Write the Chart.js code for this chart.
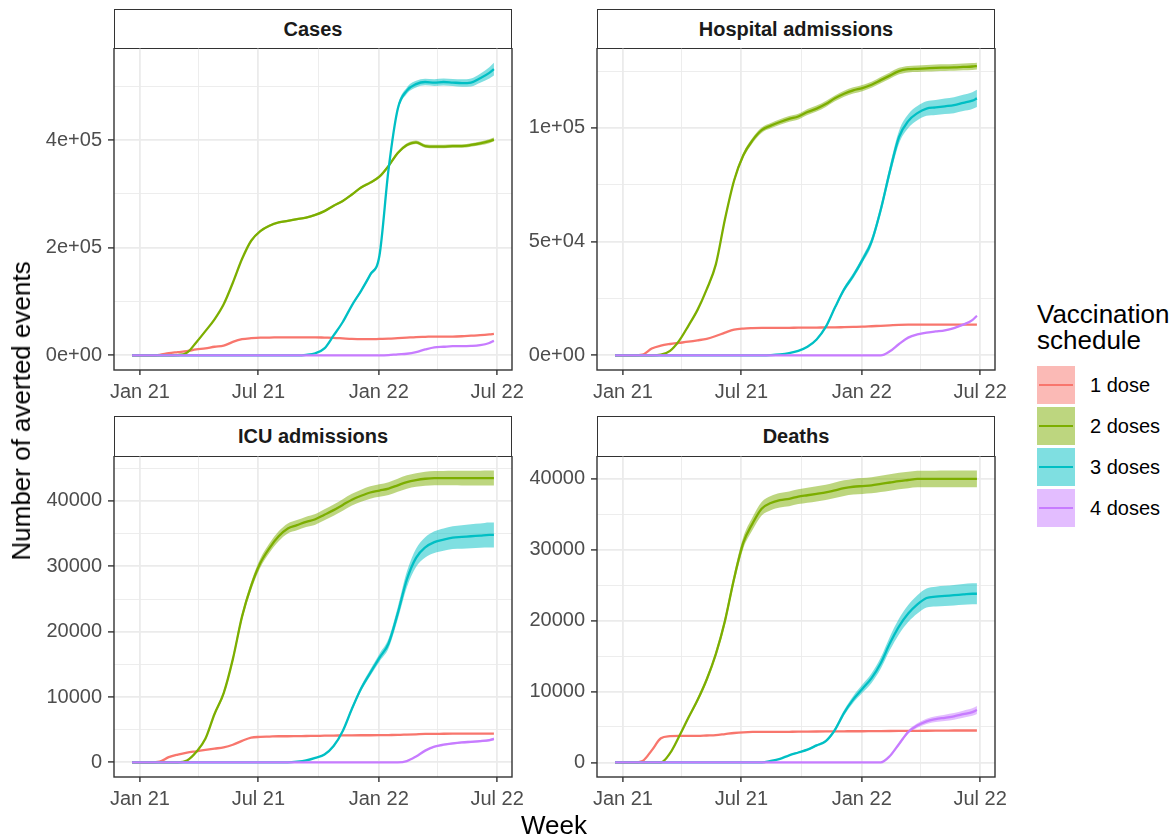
<!DOCTYPE html>
<html>
<head>
<meta charset="utf-8">
<script src="https://cdn.jsdelivr.net/npm/chart.js@4.4.1/dist/chart.umd.min.js"></script>
<style>
html,body{margin:0;padding:0;background:#fff;}
#root{position:relative;width:1175px;height:838px;overflow:hidden;background:#fff;font-family:"Liberation Sans",Arial,Helvetica,sans-serif;}
canvas{position:absolute;}
.strip{position:absolute;box-sizing:border-box;border:1.4px solid #333;background:#fff;font-weight:bold;font-size:20px;color:#1a1a1a;display:flex;align-items:center;justify-content:center;}
.title{position:absolute;font-size:26px;line-height:26px;color:#000;white-space:nowrap;}
.key{position:absolute;width:38px;height:38px;}
.key .ln{position:absolute;left:2px;right:2px;top:18px;height:2.3px;}
.klab{position:absolute;font-size:20px;line-height:20px;color:#000;white-space:nowrap;}
</style>
</head>
<body>
<div id="root">
  <div class="strip" style="left:114px;top:9px;width:398px;height:40px;">Cases</div>
  <div class="strip" style="left:597px;top:9px;width:398px;height:40px;">Hospital admissions</div>
  <div class="strip" style="left:114px;top:416px;width:398px;height:41px;">ICU admissions</div>
  <div class="strip" style="left:597px;top:416px;width:398px;height:41px;">Deaths</div>
  <canvas id="cCases"></canvas>
  <canvas id="cHosp"></canvas>
  <canvas id="cIcu"></canvas>
  <canvas id="cDeaths"></canvas>
  <div class="title" style="left:21px;top:411px;transform:translate(-50%,-50%) rotate(-90deg);">Number of averted events</div>
  <div class="title" style="left:554px;top:812px;transform:translateX(-50%);">Week</div>
  <div class="title" style="left:1037px;top:301px;">Vaccination<br>schedule</div>
  <div id="legend"></div>
</div>
<script>
// ---------- categories (weeks) ----------
const weeks = ['2020-12-20','2021-01-03','2021-01-17','2021-01-31','2021-02-14','2021-02-28','2021-03-14','2021-03-28','2021-04-11','2021-04-25',
  '2021-05-09','2021-05-23','2021-06-06','2021-06-20','2021-07-04','2021-07-18','2021-08-01','2021-08-15','2021-08-29','2021-09-12',
  '2021-09-26','2021-10-10','2021-10-24','2021-11-07','2021-11-21','2021-12-05','2021-12-19','2022-01-02','2022-01-16','2022-01-30',
  '2022-02-13','2022-02-27','2022-03-13','2022-03-27','2022-04-10','2022-04-24','2022-05-08','2022-05-22','2022-06-05','2022-06-19','2022-06-26'];

const doseLabels = ['1 dose','2 doses','3 doses','4 doses'];

// ---------- x tick labels ----------
const xTickDates = ['2021-01-01','2021-07-01','2022-01-01','2022-07-01'];
const xTickLabels = ['Jan 21','Jul 21','Jan 22','Jul 22'];
const xMinorDates = ['2021-04-01','2021-10-01','2022-04-01'];

// ---------- Cases ----------
const casesDose1 = [0,0,0,1000,4000,6000,8000,11000,13000,16000,18000,25000,30000,32000,33000,33000,33500,33500,33500,33500,33500,33000,32500,31500,30500,30000,30000,30500,31000,32000,33000,34000,34500,35000,35000,35000,35500,36500,37500,39000,40000];
const casesDose2 = [0,0,0,0,0,500,5000,24000,45000,67000,95000,135000,179000,213000,231000,241000,247000,250000,253000,256000,261000,268000,278000,287000,299000,312000,321000,332000,352000,376000,391000,396000,389000,388000,388000,389000,389000,391000,394000,398000,401000];
const casesDose3 = [0,0,0,0,0,0,0,0,0,0,0,0,0,0,0,0,0,0,0,1000,4000,13000,37000,62000,93000,120000,150000,185000,346000,458000,492000,504000,508000,507000,508000,507000,506000,507000,515000,525000,532000];
const casesDose4 = [0,0,0,0,0,0,0,0,0,0,0,0,0,0,0,0,0,0,0,0,0,0,0,0,0,0,0,0,500,2000,3000,6000,11000,15000,16000,17000,17000,17500,19000,23000,27000];
const casesErr2 = [0,0,0,0,0,0,100,300,500,700,1000,1300,1600,1800,2000,2000,2000,2100,2100,2100,2200,2200,2200,2300,2300,2400,2400,2500,2700,3000,3200,3300,3300,3300,3300,3300,3400,3400,3500,3600,3700];
const casesErr3 = [0,0,0,0,0,0,0,0,0,0,0,0,0,0,0,0,0,0,0,100,200,500,1000,1500,2000,2500,3000,3500,4500,5500,6000,6200,6200,6200,6300,6500,7000,7500,8500,10500,12000];
const casesErr4 = [0,0,0,0,0,0,0,0,0,0,0,0,0,0,0,0,0,0,0,0,0,0,0,0,0,0,0,0,0,100,200,300,500,600,700,800,850,900,1000,1100,1200];
const casesYTicks = [0,200000,400000];
const casesYLabels = ['0e+00','2e+05','4e+05'];
const casesYMinor = [100000,300000,500000];

// ---------- Hospital admissions ----------
const hospDose1 = [0,0,0,300,3000,4300,5000,5500,6000,6600,7300,8500,10000,11300,11800,12000,12100,12100,12100,12100,12200,12200,12200,12300,12300,12400,12500,12600,12800,13000,13200,13400,13500,13500,13500,13500,13500,13500,13500,13500,13500];
const hospDose2 = [0,0,0,0,0,300,2000,6500,13000,20000,29000,40000,60000,77000,88000,94500,99000,101000,102600,104000,105000,107000,108500,110500,113000,115000,116500,117500,119000,121000,123000,125000,125800,126000,126200,126400,126500,126600,126800,127000,127200];
const hospDose3 = [0,0,0,0,0,0,0,0,0,0,0,0,0,0,0,0,0,100,400,1000,2000,3800,7000,12500,21000,29000,35000,42000,50000,64000,81000,96000,103000,106500,108500,109000,109500,110000,111000,112000,113000];
const hospDose4 = [0,0,0,0,0,0,0,0,0,0,0,0,0,0,0,0,0,0,0,0,0,0,0,0,0,0,0,0,0,0,1800,5000,7800,9200,10000,10500,11000,12000,13500,15500,17400];
const hospErr2 = [0,0,0,0,0,0,50,150,300,450,600,800,1000,1100,1200,1200,1200,1200,1200,1250,1250,1300,1300,1300,1300,1300,1350,1350,1350,1400,1400,1400,1400,1450,1450,1450,1450,1500,1500,1500,1500];
const hospErr3 = [0,0,0,0,0,0,0,0,0,0,0,0,0,0,0,0,0,10,30,80,150,250,400,600,800,1000,1200,1400,1700,2000,2400,2800,3000,3100,3200,3300,3400,3500,3600,3700,3800];
const hospErr4 = [0,0,0,0,0,0,0,0,0,0,0,0,0,0,0,0,0,0,0,0,0,0,0,0,0,0,0,0,0,0,50,100,150,200,250,250,300,300,350,350,400];
const hospYTicks = [0,50000,100000];
const hospYLabels = ['0e+00','5e+04','1e+05'];
const hospYMinor = [25000,75000,125000];

// ---------- ICU admissions ----------
const icuDose1 = [0,0,0,100,800,1200,1500,1700,1900,2100,2300,2700,3300,3800,3900,3950,4000,4000,4020,4040,4060,4080,4100,4120,4140,4150,4150,4160,4180,4200,4250,4300,4350,4370,4380,4390,4400,4400,4400,4400,4400];
const icuDose2 = [0,0,0,0,0,0,300,1600,3600,7400,10600,15800,22300,27000,30500,32800,34600,35800,36300,36800,37200,37900,38600,39400,40200,40800,41300,41600,41900,42400,42900,43200,43400,43500,43500,43500,43500,43500,43500,43500,43500];
const icuDose3 = [0,0,0,0,0,0,0,0,0,0,0,0,0,0,0,0,0,0,100,300,700,1200,2500,4800,8200,11300,13700,16000,18200,22800,28000,31300,32900,33700,34100,34400,34500,34600,34700,34800,34800];
const icuDose4 = [0,0,0,0,0,0,0,0,0,0,0,0,0,0,0,0,0,0,0,0,0,0,0,0,0,0,0,0,0,0,200,900,1800,2400,2700,2900,3050,3150,3250,3400,3600];
const icuErr2 = [0,0,0,0,0,0,20,80,150,250,350,450,550,620,680,720,750,770,790,800,820,840,860,880,900,920,940,960,980,1000,1020,1040,1060,1080,1100,1110,1120,1130,1140,1150,1150];
const icuErr3 = [0,0,0,0,0,0,0,0,0,0,0,0,0,0,0,0,0,5,10,20,40,70,120,200,300,400,500,600,750,950,1200,1400,1550,1650,1700,1750,1800,1850,1850,1900,1900];
const icuErr4 = [0,0,0,0,0,0,0,0,0,0,0,0,0,0,0,0,0,0,0,0,0,0,0,0,0,0,0,0,0,0,10,40,80,110,130,150,160,170,180,190,200];
const icuYTicks = [0,10000,20000,30000,40000];
const icuYLabels = ['0','10000','20000','30000','40000'];
const icuYMinor = [5000,15000,25000,35000,45000];

// ---------- Deaths ----------
const deathsDose1 = [0,0,0,200,1700,3400,3700,3750,3750,3750,3800,3850,4000,4150,4250,4300,4300,4300,4300,4320,4340,4350,4360,4370,4380,4390,4400,4400,4410,4420,4430,4440,4450,4460,4470,4480,4490,4500,4500,4500,4500];
const deathsDose2 = [0,0,0,0,0,0,1300,3700,6300,8800,11700,15300,20000,26000,31000,33700,35800,36600,37000,37200,37500,37700,37900,38100,38400,38700,38900,39000,39100,39300,39500,39700,39850,40000,40000,40000,40000,40000,40000,40000,40000];
const deathsDose3 = [0,0,0,0,0,0,0,0,0,0,0,0,0,0,0,0,0,200,500,1000,1400,1800,2400,3000,4600,7000,8900,10400,11900,14000,16800,19200,21000,22300,23200,23400,23500,23600,23700,23800,23800];
const deathsDose4 = [0,0,0,0,0,0,0,0,0,0,0,0,0,0,0,0,0,0,0,0,0,0,0,0,0,0,0,0,0,0,900,2600,4300,5200,5800,6100,6300,6500,6800,7100,7400];
const deathsErr2 = [0,0,0,0,0,0,30,100,200,300,400,500,600,700,800,900,950,1000,1020,1040,1050,1060,1070,1080,1090,1100,1110,1120,1130,1140,1150,1160,1160,1170,1170,1170,1180,1180,1180,1180,1180];
const deathsErr3 = [0,0,0,0,0,0,0,0,0,0,0,0,0,0,0,0,0,10,30,60,90,120,160,200,280,380,480,580,680,800,950,1100,1200,1300,1350,1400,1420,1450,1460,1480,1480];
const deathsErr4 = [0,0,0,0,0,0,0,0,0,0,0,0,0,0,0,0,0,0,0,0,0,0,0,0,0,0,0,0,0,0,50,150,250,320,370,410,440,470,500,530,560];
const deathsYTicks = [0,10000,20000,30000,40000];
const deathsYLabels = ['0','10000','20000','30000','40000'];
const deathsYMinor = [5000,15000,25000,35000];

// ---------- styling ----------
const doseColors = ['#F8766D','#7CAE00','#00BFC4','#C77CFF'];
const bandColors = ['rgba(248,118,109,0.5)','rgba(124,174,0,0.5)','rgba(0,191,196,0.5)','rgba(199,124,255,0.5)'];
const FONT = '"Liberation Sans", Arial, Helvetica, sans-serif';
Chart.defaults.font.family = FONT;

function dayOf(s){ return (Date.parse(s) - Date.parse('2021-01-01')) / 86400000; }
const xDays = weeks.map(dayOf);
const xMajor = xTickDates.map(dayOf);
const xMinor = xMinorDates.map(dayOf);
const xRange = xDays[xDays.length-1] - xDays[0];
const xMin = xDays[0] - 0.05 * xRange;
const xMax = xDays[xDays.length-1] + 0.05 * xRange;

const panels = [
  {id:'cCases', series:[casesDose1,casesDose2,casesDose3,casesDose4], errs:[null,casesErr2,casesErr3,casesErr4],
   yT:casesYTicks, yL:casesYLabels, yM:casesYMinor, left:30, top:48, plotH:322},
  {id:'cHosp', series:[hospDose1,hospDose2,hospDose3,hospDose4], errs:[null,hospErr2,hospErr3,hospErr4],
   yT:hospYTicks, yL:hospYLabels, yM:hospYMinor, left:513, top:48, plotH:322},
  {id:'cIcu', series:[icuDose1,icuDose2,icuDose3,icuDose4], errs:[null,icuErr2,icuErr3,icuErr4],
   yT:icuYTicks, yL:icuYLabels, yM:icuYMinor, left:30, top:456, plotH:321},
  {id:'cDeaths', series:[deathsDose1,deathsDose2,deathsDose3,deathsDose4], errs:[null,deathsErr2,deathsErr3,deathsErr4],
   yT:deathsYTicks, yL:deathsYLabels, yM:deathsYMinor, left:513, top:456, plotH:321}
];

const Y_AXIS_W = 84, X_AXIS_H = 44, PAD_R = 30, PLOT_W = 398;

const panelBorder = {
  id:'panelBorder',
  afterDraw(chart){
    const a = chart.chartArea, ctx = chart.ctx;
    ctx.save();
    ctx.strokeStyle = '#333333';
    ctx.lineWidth = 1.4;
    ctx.strokeRect(a.left, a.top, a.right - a.left, a.bottom - a.top);
    ctx.restore();
  }
};

panels.forEach(p => {
  const cv = document.getElementById(p.id);
  const W = Y_AXIS_W + PLOT_W + PAD_R, H = p.plotH + X_AXIS_H;
  cv.width = W; cv.height = H;
  cv.style.left = p.left + 'px'; cv.style.top = p.top + 'px';
  cv.style.width = W + 'px'; cv.style.height = H + 'px';

  // y limits like ggplot (5% expansion of data incl. ribbons)
  let lo = Infinity, hi = -Infinity;
  p.series.forEach((s, k) => s.forEach((v, i) => {
    const e = p.errs[k] ? p.errs[k][i] : 0;
    lo = Math.min(lo, v - e); hi = Math.max(hi, v + e);
  }));
  const yr = hi - lo;
  const yMin = lo - 0.05 * yr, yMax = hi + 0.05 * yr;

  const datasets = [];
  p.series.forEach((s, k) => {
    const e = p.errs[k];
    if (e) {
      datasets.push({
        data: s.map((v, i) => ({x: xDays[i], y: v + e[i]})),
        borderWidth: 0, borderColor: 'rgba(0,0,0,0)', backgroundColor: bandColors[k],
        pointRadius: 0, fill: '+1', cubicInterpolationMode: 'monotone', order: 20 - k
      });
      datasets.push({
        data: s.map((v, i) => ({x: xDays[i], y: v - e[i]})),
        borderWidth: 0, borderColor: 'rgba(0,0,0,0)', backgroundColor: bandColors[k],
        pointRadius: 0, fill: false, cubicInterpolationMode: 'monotone', order: 20 - k
      });
    }
  });
  p.series.forEach((s, k) => {
    datasets.push({
      label: doseLabels[k],
      data: s.map((v, i) => ({x: xDays[i], y: v})),
      borderColor: doseColors[k], borderWidth: 2.3, pointRadius: 0, fill: false,
      cubicInterpolationMode: 'monotone', order: 5 - k
    });
  });

  new Chart(cv, {
    type: 'line',
    data: {datasets},
    plugins: [panelBorder],
    options: {
      responsive: false, animation: false, devicePixelRatio: 1,
      layout: {padding: {left: 0, right: PAD_R, top: 0, bottom: 0}},
      plugins: {legend: {display: false}, tooltip: {enabled: false}},
      scales: {
        x: {
          type: 'linear', min: xMin, max: xMax, bounds: 'data',
          afterBuildTicks: s => { s.ticks = xMajor.concat(xMinor).map(v => ({value: v})); },
          afterFit: s => { s.height = X_AXIS_H; s.paddingLeft = 0; s.paddingRight = 0; },
          border: {display: false},
          grid: {
            color: '#EBEBEB',
            lineWidth: c => (c.tick && xMajor.includes(c.tick.value)) ? 1.8 : 0.9,
            tickColor: c => (c.tick && xMajor.includes(c.tick.value)) ? '#333333' : 'rgba(0,0,0,0)',
            tickWidth: 1.4, tickLength: 5, drawTicks: true
          },
          ticks: {
            autoSkip: false, maxRotation: 0, minRotation: 0, padding: 5,
            color: '#4D4D4D', font: {size: 20, family: FONT},
            callback: v => { const i = xMajor.indexOf(v); return i >= 0 ? xTickLabels[i] : ''; }
          }
        },
        y: {
          type: 'linear', min: yMin, max: yMax, bounds: 'data',
          afterBuildTicks: s => { s.ticks = p.yT.concat(p.yM).map(v => ({value: v})); },
          afterFit: s => { s.width = Y_AXIS_W; s.paddingTop = 0; s.paddingBottom = 0; },
          border: {display: false},
          grid: {
            color: '#EBEBEB',
            lineWidth: c => (c.tick && p.yT.includes(c.tick.value)) ? 1.8 : 0.9,
            tickColor: c => (c.tick && p.yT.includes(c.tick.value)) ? '#333333' : 'rgba(0,0,0,0)',
            tickWidth: 1.4, tickLength: 6, drawTicks: true
          },
          ticks: {
            autoSkip: false, padding: 6,
            color: '#4D4D4D', font: {size: 20, family: FONT},
            callback: v => { const i = p.yT.indexOf(v); return i >= 0 ? p.yL[i] : ''; }
          }
        }
      }
    }
  });
});

// ---------- legend ----------
const legend = document.getElementById('legend');
const keyTops = [366, 407, 448, 489];
doseLabels.forEach((lab, k) => {
  const key = document.createElement('div');
  key.className = 'key';
  key.style.left = '1037px'; key.style.top = keyTops[k] + 'px';
  key.style.background = bandColors[k];
  const ln = document.createElement('div');
  ln.className = 'ln'; ln.style.background = doseColors[k];
  key.appendChild(ln);
  legend.appendChild(key);
  const t = document.createElement('div');
  t.className = 'klab'; t.textContent = lab;
  t.style.left = '1090px'; t.style.top = (keyTops[k] + 9) + 'px';
  legend.appendChild(t);
});
</script>
</body>
</html>
